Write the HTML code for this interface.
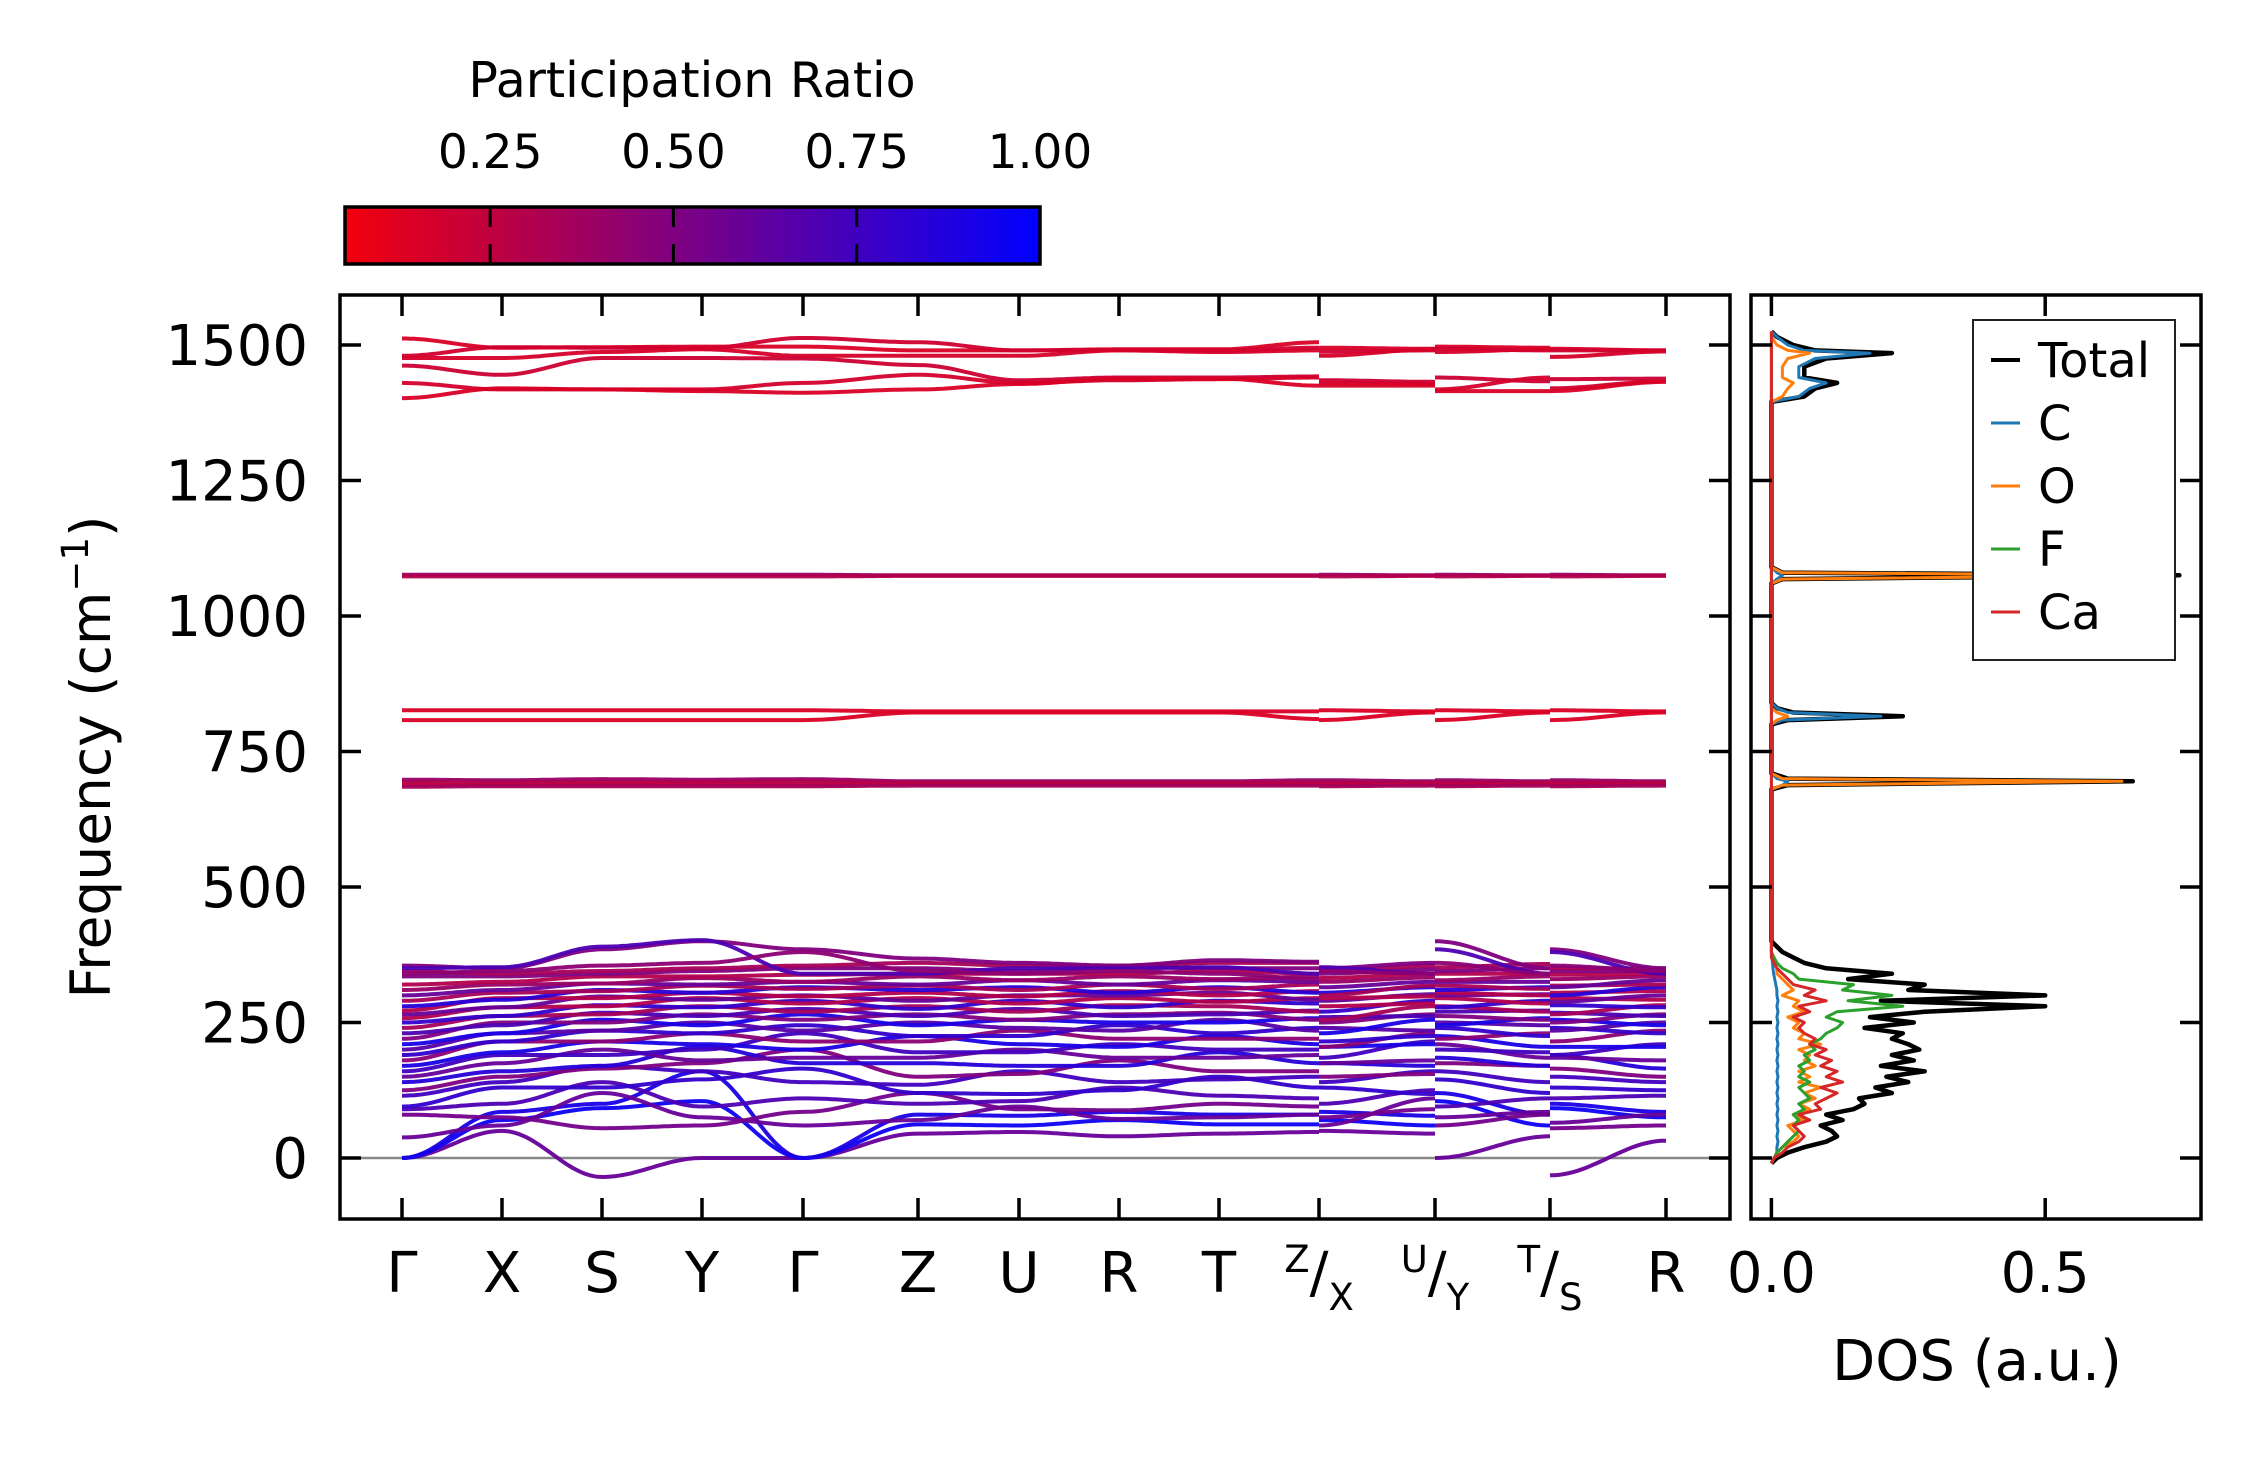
<!DOCTYPE html>
<html><head><meta charset="utf-8"><style>
html,body{margin:0;padding:0;background:#fff}
svg text{font-family:"DejaVu Sans","Liberation Sans",sans-serif;fill:#000}
</style></head><body>
<svg id="chart" width="2259" height="1455" viewBox="0 0 2259 1455" xmlns="http://www.w3.org/2000/svg">
<defs>
<linearGradient id="cbgrad" x1="0" x2="1" y1="0" y2="0">
<stop offset="0" stop-color="rgb(242,0,13)"/><stop offset="1" stop-color="rgb(0,0,255)"/>
</linearGradient>
<clipPath id="mainclip"><rect x="340" y="295" width="1390" height="924"/></clipPath>
<clipPath id="dosclip"><rect x="1751" y="295" width="450" height="924"/></clipPath>
</defs>
<g id="colorbar">
<text x="692" y="97" font-size="49" text-anchor="middle">Participation Ratio</text>
<rect x="345" y="207" width="695" height="57" fill="url(#cbgrad)" stroke="#000" stroke-width="3.5"/>
</g>
<g id="bands" clip-path="url(#mainclip)"></g>
<g id="dos" clip-path="url(#dosclip)"></g>
<g id="axes"></g>
<text transform="translate(110,757) rotate(-90)" font-size="55" text-anchor="middle">Frequency (cm<tspan dy="-22" font-size="37">−1</tspan><tspan dy="22">)</tspan></text>
<text x="1977" y="1380" font-size="56" text-anchor="middle">DOS (a.u.)</text>
<g>
<rect x="1973" y="320" width="202" height="340" fill="#fff" stroke="#222" stroke-width="2"/>
</g>
</svg>
<script>
// ---------- data ----------
const tickLabels = ["Γ","X","S","Y","Γ","Z","U","R","T","Z/X","U/Y","T/S","R"];
const tickFrac = [0,100,200,300,401,516,617,717,817,917,1033,1148,1264];
const yTicks = [0,250,500,750,1000,1250,1500];
const cbTicks = [0.25,0.5,0.75,1.0];
const dosTicks = [0.0,0.5];
// band values at points: G X S Y G Z U R T Z | X U | Y T | S R
const highBands = [
[1512,1495,1496,1497,1497,1490,1490,1492,1492,1505,1495,1493,1497,1495,1493,1490],
[1480,1496,1495,1494,1513,1505,1490,1490,1490,1495,1488,1490,1493,1490,1490,1490],
[1476,1476,1487,1492,1480,1480,1480,1490,1487,1490,1480,1492,1487,1492,1478,1488],
[1462,1445,1476,1476,1475,1463,1435,1440,1440,1442,1435,1432,1440,1433,1437,1438],
[1430,1418,1418,1418,1430,1445,1430,1435,1437,1440,1430,1428,1418,1440,1420,1433],
[1402,1420,1418,1415,1412,1418,1428,1438,1438,1425,1425,1425,1415,1415,1415,1432],
[1076,1076,1076,1076,1076,1075,1075,1075,1075,1075,1076,1075,1076,1075,1076,1075],
[1073,1073,1073,1073,1073,1074,1074,1074,1074,1074,1073,1074,1073,1074,1073,1074],
[826,826,826,826,826,824,824,824,824,824,826,824,826,824,826,824],
[808,808,808,808,808,822,822,822,822,810,808,822,808,822,808,822],
[698,697,699,698,699,695,695,695,695,697,697,695,697,695,697,695],
[693,693,694,694,695,692,692,692,692,693,693,692,693,692,693,692],
[689,689,690,690,689,690,690,690,690,690,689,690,689,690,689,690],
[685,686,686,686,686,687,687,687,687,687,686,687,686,687,686,687]
];
const highPR = [0.15,0.18,0.16,0.2,0.17,0.15,0.4,0.3,0.15,0.14,0.4,0.32,0.25,0.35];
const lowBands = [
[0,50,-35,0,0,45,48,40,45,48,50,45,0,40,-32,32],
[0,70,92,105,0,62,60,70,62,62,70,60,105,60,92,75],
[0,85,100,160,0,80,78,85,80,80,85,78,120,80,100,85],
[38,60,120,75,60,70,95,72,75,80,60,110,75,85,65,80],
[80,75,55,60,85,120,90,88,100,95,75,90,60,80,55,60],
[90,100,140,95,110,100,105,130,115,110,100,125,95,110,110,115],
[95,130,130,145,165,120,118,125,150,130,130,118,145,120,130,125],
[115,140,170,160,140,135,160,140,145,150,140,160,160,140,150,140],
[125,150,165,175,200,150,155,180,160,160,150,155,175,170,165,150],
[140,160,170,205,175,175,170,170,195,175,175,170,185,170,190,165],
[150,175,200,180,185,185,200,185,185,190,175,180,210,185,185,180],
[160,190,190,200,230,195,195,210,200,200,185,215,200,195,190,210],
[170,195,215,210,200,225,210,205,225,210,205,210,225,205,205,205],
[180,215,215,230,215,215,235,220,220,220,205,230,220,230,215,235],
[190,215,235,230,245,225,225,245,230,240,215,225,240,225,240,230],
[200,230,235,250,235,250,240,235,255,235,240,235,250,245,235,250],
[210,230,255,245,265,245,255,250,250,258,230,255,245,258,255,245],
[220,250,250,265,255,265,255,265,268,255,250,265,262,255,250,265],
[230,245,268,262,275,262,275,262,265,272,260,262,270,272,268,262],
[240,262,265,280,270,280,270,282,280,270,255,280,280,270,265,282],
[250,262,282,278,290,275,290,278,290,285,270,290,278,290,282,278],
[258,278,280,295,285,295,285,295,288,295,280,285,295,285,295,292],
[265,278,298,292,300,290,300,300,305,292,290,302,300,302,288,300],
[272,295,295,305,298,305,298,308,300,308,295,298,305,300,305,308],
[280,292,310,305,315,310,315,305,315,305,305,315,310,315,300,315],
[290,305,308,318,312,318,310,320,312,320,300,318,318,312,318,320],
[300,310,322,320,325,320,328,320,328,325,315,325,325,325,315,328],
[310,320,322,332,325,335,328,335,330,335,325,333,328,335,330,335],
[320,325,335,335,338,340,340,340,345,340,332,340,340,340,338,340],
[335,335,340,345,350,350,345,352,350,350,340,348,345,350,345,345],
[345,340,345,350,355,360,355,355,360,360,345,355,352,358,350,350],
[355,350,385,400,385,368,360,355,365,362,350,360,400,350,385,350],
[350,352,390,402,340,340,350,350,352,340,352,340,385,340,380,340],
[340,345,355,360,380,345,340,345,340,330,345,340,360,340,355,345]
];
const lowPR = [0.6,0.95,0.9,0.6,0.55,0.7,0.8,0.75,0.5,0.85,0.6,0.75,0.9,0.45,0.8,0.65,0.9,0.5,0.7,0.35,0.8,0.3,0.6,0.3,0.85,0.35,0.6,0.4,0.3,0.5,0.35,0.5,0.7,0.45];
// DOS
const dosFreq = [-10,0,10,20,30,40,50,60,70,80,90,100,110,120,130,140,150,160,170,180,190,200,210,220,230,240,250,260,270,280,290,300,310,320,330,340,350,360,370,380,390,400,410,680,688,695,700,710,800,808,815,822,830,840,1060,1068,1075,1080,1090,1395,1405,1420,1430,1440,1460,1475,1485,1490,1500,1515,1525];
const dosTotal = [0,0.01,0.03,0.06,0.10,0.12,0.11,0.09,0.13,0.10,0.15,0.17,0.16,0.22,0.19,0.25,0.21,0.28,0.20,0.26,0.22,0.27,0.25,0.22,0.24,0.17,0.26,0.18,0.28,0.50,0.20,0.50,0.25,0.28,0.14,0.22,0.10,0.06,0.04,0.02,0.01,0,0,0,0.03,0.66,0.03,0,0,0.03,0.24,0.04,0.01,0,0,0.02,0.745,0.02,0,0,0.06,0.08,0.12,0.06,0.06,0.10,0.22,0.08,0.04,0.01,0];
const dosC = [0,0.005,0.01,0.01,0.012,0.01,0.012,0.01,0.012,0.01,0.012,0.01,0.012,0.01,0.012,0.01,0.012,0.01,0.012,0.01,0.012,0.01,0.012,0.01,0.012,0.01,0.012,0.01,0.012,0.01,0.012,0.01,0.01,0.008,0.006,0.004,0.003,0.002,0.001,0,0,0,0,0,0.02,0.03,0.01,0,0,0.02,0.2,0.03,0.01,0,0,0.01,0.02,0.01,0,0,0.05,0.07,0.1,0.05,0.05,0.08,0.18,0.06,0.03,0.01,0];
const dosO = [0,0.005,0.01,0.02,0.04,0.05,0.04,0.03,0.06,0.04,0.07,0.05,0.08,0.06,0.09,0.05,0.07,0.05,0.08,0.06,0.07,0.05,0.09,0.05,0.06,0.04,0.05,0.03,0.06,0.04,0.05,0.02,0.04,0.03,0.02,0.01,0.01,0.005,0,0,0,0,0,0,0.02,0.64,0.02,0,0,0.01,0.03,0.01,0,0,0,0.02,0.73,0.02,0,0,0.02,0.03,0.04,0.02,0.02,0.03,0.07,0.03,0.01,0,0];
const dosF = [0,0.005,0.01,0.02,0.03,0.04,0.05,0.04,0.05,0.04,0.06,0.05,0.07,0.06,0.05,0.07,0.05,0.06,0.05,0.07,0.06,0.08,0.07,0.09,0.1,0.12,0.13,0.1,0.12,0.24,0.14,0.22,0.13,0.15,0.05,0.04,0.02,0.01,0.005,0,0,0,0,0,0,0,0,0,0,0,0,0,0,0,0,0,0,0,0,0,0,0,0,0,0,0,0,0,0,0,0];
const dosCa = [0,0.005,0.02,0.03,0.05,0.06,0.05,0.04,0.07,0.05,0.09,0.08,0.1,0.12,0.09,0.13,0.1,0.12,0.09,0.11,0.08,0.1,0.07,0.08,0.06,0.05,0.06,0.04,0.07,0.05,0.1,0.06,0.08,0.04,0.03,0.02,0.01,0.005,0,0,0,0,0,0,0,0,0,0,0,0,0,0,0,0,0,0,0,0,0,0,0,0,0,0,0,0,0,0,0,0,0];
const legendNames = ["Total","C","O","F","Ca"];
const legendColors = ["#000000","#1f77b4","#ff7f0e","#2ca02c","#d62728"];

// ---------- scales ----------
const NS = "http://www.w3.org/2000/svg";
const X0 = 402;
function kx(i){ return X0 + tickFrac[i]; }
function fy(v){ return 1158 - v*0.542; }
function dx(d){ return 1771.4 + d*547.6; }
function prColor(p){ return `rgb(${Math.round(255*(1-p))},0,${Math.round(255*p)})`; }
function mk(tag, attrs, parent){ const e=document.createElementNS(NS,tag); for(const k in attrs) e.setAttribute(k,attrs[k]); parent.appendChild(e); return e; }
const svg = document.getElementById('chart');
const bandsG = document.getElementById('bands');
const axesG = document.getElementById('axes');
const dosG = document.getElementById('dos');

const zl = mk('line',{x1:340,x2:1730,y1:fy(0),y2:fy(0),stroke:'#888','stroke-width':2.5},bandsG);



const segs = [[0,1,0,1],[1,2,1,2],[2,3,2,3],[3,4,3,4],[4,5,4,5],[5,6,5,6],[6,7,6,7],[7,8,7,8],[8,9,8,9],[9,10,10,11],[10,11,12,13],[11,12,14,15]];
function drawBand(vals, pr, name){
  segs.forEach(s=>{
    const xa=kx(s[0]), xb=kx(s[1]), a=vals[s[2]], b=vals[s[3]];
    let pts=[];
    for(let k=0;k<=24;k++){ const t=k/24; const w=(1-Math.cos(Math.PI*t))/2; pts.push((xa+(xb-xa)*t).toFixed(1)+','+fy(a+(b-a)*w).toFixed(1)); }
    const p=mk('polyline',{points:pts.join(' '),fill:'none',stroke:prColor(pr),'stroke-width':4,'stroke-opacity':0.95},bandsG);
    
    
  });
}
highBands.forEach((b,i)=>drawBand(b,highPR[i],'band-high-'+i));
lowBands.forEach((b,i)=>drawBand(b,lowPR[i],'band-low-'+i));

function drawDos(arr,color,name,w){
  const pts = dosFreq.map((f,i)=>dx(arr[i]).toFixed(1)+','+fy(f).toFixed(1)).join(' ');
  const p=mk('polyline',{points:pts,fill:'none',stroke:color,'stroke-width':w,'stroke-linejoin':'round'},dosG);
  
  
}
drawDos(dosTotal,'#000','dos-total',4.5);
drawDos(dosC,'#1f77b4','dos-c',3);
drawDos(dosO,'#ff7f0e','dos-o',3);
drawDos(dosF,'#2ca02c','dos-f',3);
drawDos(dosCa,'#d62728','dos-ca',3);

const f1=mk('rect',{x:340,y:295,width:1390,height:924,fill:'none',stroke:'#000','stroke-width':3.5},axesG);


const f2=mk('rect',{x:1751,y:295,width:450,height:924,fill:'none',stroke:'#000','stroke-width':3.5},axesG);



yTicks.forEach(v=>{
  const y=fy(v);
  [[340,361],[1709,1730],[1751,1772],[2180,2201]].forEach(([a,b])=>{
    const t=mk('line',{x1:a,x2:b,y1:y,y2:y,stroke:'#000','stroke-width':3.5},axesG);
    
    
  });
  const l=mk('text',{x:308,y:y+20,'font-size':56,'text-anchor':'end'},axesG);
  l.textContent=v;
  
  
});
tickLabels.forEach((lab,i)=>{
  const x=kx(i);
  [[1198,1219],[295,316]].forEach(([a,b])=>{
    const t=mk('line',{x1:x,x2:x,y1:a,y2:b,stroke:'#000','stroke-width':3.5},axesG);
    
    
  });
  let l;
  if(lab.includes('/')){
    const [sup,sub]=lab.split('/');
    l=mk('text',{x:x,y:1292,'font-size':56,'text-anchor':'middle'},axesG);
    const a=mk('tspan',{'font-size':37,dy:-20},l); a.textContent=sup;
    const b=mk('tspan',{dy:20},l); b.textContent='/';
    const c=mk('tspan',{'font-size':37,dy:18},l); c.textContent=sub;
  } else {
    l=mk('text',{x:x,y:1292,'font-size':56,'text-anchor':'middle'},axesG);
    l.textContent=lab;
  }
  
  
});
dosTicks.forEach(d=>{
  const x=dx(d);
  [[1198,1219],[295,316]].forEach(([a,b])=>{
    const t=mk('line',{x1:x,x2:x,y1:a,y2:b,stroke:'#000','stroke-width':3.5},axesG);
    
    
  });
  const l=mk('text',{x:x,y:1292,'font-size':56,'text-anchor':'middle'},axesG);
  l.textContent=d.toFixed(1);
  
  
});
function cbx(v){ return 345 + (v-0.052)/(1-0.052)*695; }
cbTicks.forEach(v=>{
  const x=cbx(v);
  if(v<1){
    [[207,227],[244,264]].forEach(([a,b])=>{
      const t=mk('line',{x1:x,x2:x,y1:a,y2:b,stroke:'#000','stroke-width':3},svg);
      
      
    });
  }
  const l=mk('text',{x:x,y:168,'font-size':47,'text-anchor':'middle'},svg);
  l.textContent=v.toFixed(2);
  
  
});
legendNames.forEach((n,i)=>{
  const y=360+i*63;
  const g=mk('g',{},svg);
  
  
  mk('line',{x1:1991,x2:2020,y1:y,y2:y,stroke:legendColors[i],'stroke-width':i===0?4:3},g);
  const t=mk('text',{x:2038,y:y+17,'font-size':48},g);
  t.textContent=n;
});
</script>
</body></html>
